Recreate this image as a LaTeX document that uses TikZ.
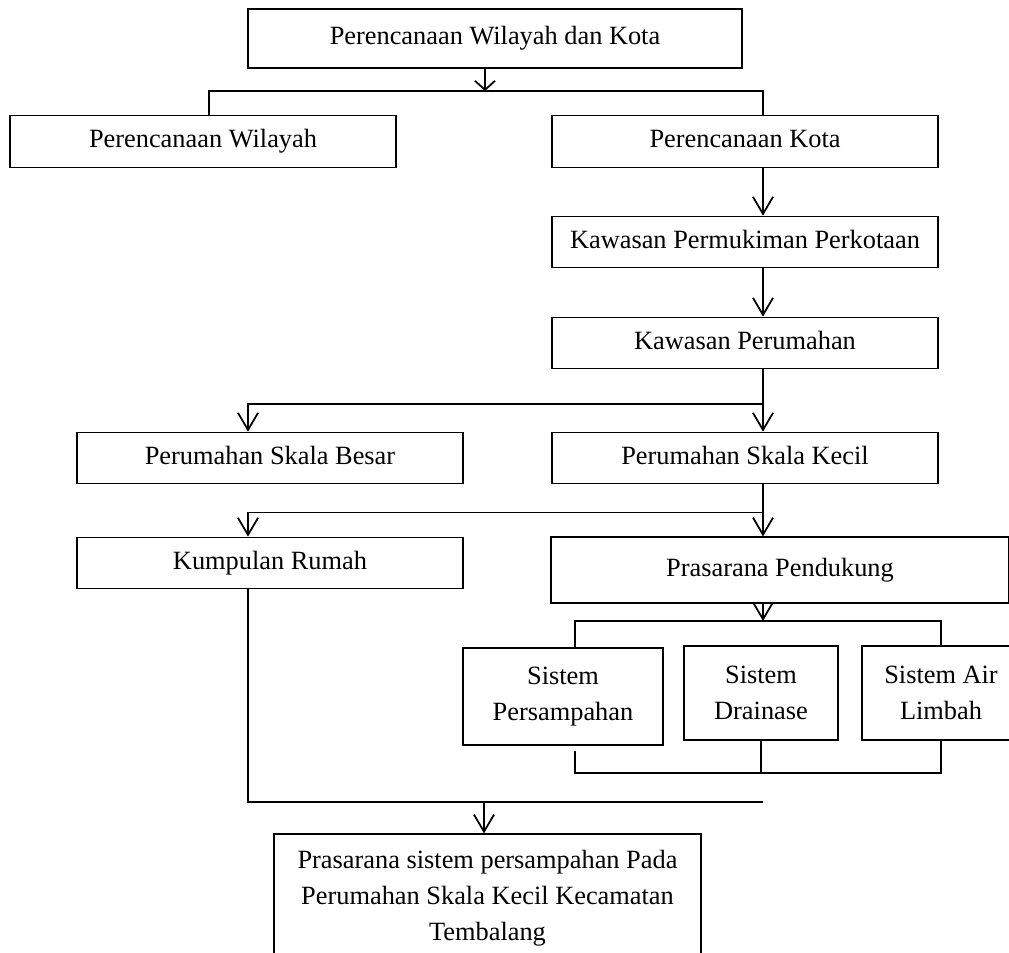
\documentclass[tikz,border=0pt]{standalone}
\usepackage{fontspec}
\setmainfont{Liberation Serif}
\usetikzlibrary{arrows.meta}

\begin{document}
\begin{tikzpicture}[
box/.style={draw,line width=0.7pt,align=center,inner sep=0pt,font=\fontsize{15}{20.5}\selectfont},
single/.style={box,text height=10.5pt,text depth=3.5pt},
wide/.style={single,minimum width=7.72cm,minimum height=1.03cm},
flow/.style={-{Straight Barb[length=3.4mm,width=4mm]},line width=1pt},
link/.style={line width=1pt}]
\useasboundingbox (0,0) rectangle (20.18,-19.04);
\clip (0,0) rectangle (20.18,-19.04);
\node[single,minimum width=9.88cm,minimum height=1.18cm] (pwk) at (9.9,-0.77) {Perencanaan Wilayah dan Kota};
\node[wide] (wilayah) at (4.06,-2.83) {Perencanaan Wilayah};
\node[wide] (kota) at (14.9,-2.83) {Perencanaan Kota};
\node[wide] (permukiman) at (14.9,-4.84) {Kawasan Permukiman Perkotaan};
\node[wide] (perumahan) at (14.9,-6.86) {Kawasan Perumahan};
\node[wide] (besar) at (5.4,-9.16) {Perumahan Skala Besar};
\node[wide] (kecil) at (14.9,-9.16) {Perumahan Skala Kecil};
\node[wide] (kumpulan) at (5.4,-11.26) {Kumpulan Rumah};
\node[single,minimum width=9.16cm,minimum height=1.32cm] (pendukung) at (15.6,-11.4) {Prasarana Pendukung};
\node[box,minimum width=4cm,minimum height=1.94cm] (sampah) at (11.26,-13.93) {Sistem\\Persampahan};
\node[box,minimum width=3.08cm,minimum height=1.88cm] (drainase) at (15.22,-13.86) {Sistem\\Drainase};
\node[box,minimum width=3.16cm,minimum height=1.88cm] (limbah) at (18.82,-13.86) {Sistem Air\\Limbah};
\node[box,minimum width=8.54cm,minimum height=2.56cm] (tujuan) at (9.75,-17.96) {Prasarana sistem persampahan Pada\\Perumahan Skala Kecil Kecamatan\\Tembalang};
\coordinate (s1) at (9.7,-1.82);
\coordinate (s2) at (15.26,-8.08);
\coordinate (s3) at (15.26,-10.25);
\coordinate (s4) at (15.26,-12.42);
\coordinate (s5) at (15.22,-15.46);
\coordinate (s6) at (9.68,-16.04);
\coordinate (col) at (15.26,0);
\coordinate (left) at (4.96,0);
\coordinate (wl) at (4.18,0);
\coordinate (sl) at (11.5,0);
\coordinate (sr) at (18.82,0);
\draw[flow,-{Straight Barb[length=1.8mm,width=4mm]}] (pwk.south -| s1) -- (s1);
\draw[link] (wilayah.north -| wl) |- (s1) -| (kota.north -| col);
\draw[flow] (kota.south -| col) -- (permukiman.north -| col);
\draw[flow] (permukiman.south -| col) -- (perumahan.north -| col);
\draw[flow] (perumahan.south -| col) -- (kecil.north -| col);
\draw[flow] (s2) -| (besar.north -| left);
\draw[flow] (kecil.south -| col) -- (pendukung.north -| col);
\draw[flow] (s3) -| (kumpulan.north -| left);
\draw[flow] (pendukung.south -| col) -- (s4);
\draw[link] (sampah.north -| sl) |- (s4) -| (limbah.north -| sr);
\draw[link] ([yshift=-1mm]sampah.south -| sl) |- (s5) -| (limbah.south -| sr);
\draw[link] (drainase.south) -- (s5);
\draw[link] (kumpulan.south -| left) |- (col |- s6);
\draw[flow] (s6) -- (tujuan.north -| s6);
\end{tikzpicture}
\end{document}
